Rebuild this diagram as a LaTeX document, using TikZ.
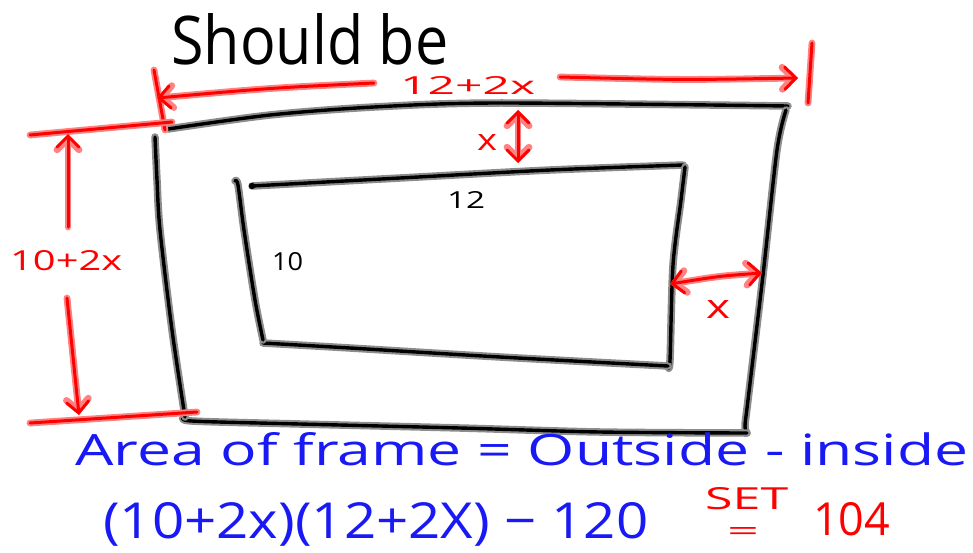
\documentclass[tikz,border=0pt]{standalone}
\usepackage{fontspec}
\usepackage{graphicx}
\setmainfont{Open Sans}
\usetikzlibrary{arrows.meta}
\definecolor{inkred}{RGB}{255,0,0}
\definecolor{inkblue}{RGB}{25,25,245}
\definecolor{halogray}{RGB}{140,140,140}
\definecolor{halored}{RGB}{255,130,130}
\tikzset{
  pen/.style={line width=3.4pt, black, line cap=round, line join=round,
    preaction={draw=halogray, line width=7.5pt, line cap=round, line join=round}},
  redpen/.style={line width=3pt, inkred, line cap=round, line join=round,
    preaction={draw=halored, line width=6.8pt, line cap=round, line join=round}},
  tip/.style={-{Straight Barb[length=11pt,width=22pt,line cap=round]}},
  tips/.style={{Straight Barb[length=11pt,width=22pt,line cap=round]}-{Straight Barb[length=11pt,width=22pt,line cap=round]}},
  lbl/.style={inner sep=0pt, anchor=base west},
}
\begin{document}
\begin{tikzpicture}[x=1pt,y=-1pt]
\useasboundingbox (0,0) rectangle (973,552);
% ---------- outer frame ----------
\draw[pen] plot[smooth,tension=0.5] coordinates {(168,129) (270,115) (374,107) (498,103) (788,106)};
\draw[pen] plot[smooth,tension=0.5] coordinates {(786,110) (777,150) (763,275) (748,400) (745,426) (747,433)};
\draw[pen] plot[smooth,tension=0.5] coordinates {(747,433) (600,432) (460,428) (300,424) (192,421) (185,417)};
\draw[pen] plot[smooth,tension=0.5] coordinates {(185,417) (172,330) (160,230) (157,180) (155,137)};
% ---------- inner frame ----------
\draw[pen] plot[smooth,tension=0.5] coordinates {(252,186) (400,178) (550,170) (683,165)};
\fill (252,186) circle (3.2pt);
\draw[pen] plot[smooth,tension=0.5] coordinates {(685,167) (681,200) (673,265) (670,360) (668,366)};
\draw[pen] plot[smooth,tension=0.5] coordinates {(668,366) (500,357) (350,348) (263,343)};
\draw[pen] plot[smooth,tension=0.5] coordinates {(263,340) (255,300) (244,230) (238,185) (235,181)};
% ---------- coordinates for red dimensions ----------
\coordinate (ltickA) at (154,70);
\coordinate (ltickB) at (165,130);
\coordinate (larrowS) at (374,83);
\coordinate (larrowE) at (157,98);
\coordinate (rarrowS) at (560,77);
\coordinate (rarrowE) at (798,78);
\coordinate (rtickA) at (812,43);
\coordinate (rtickB) at (808,103);
\coordinate (xtopA) at (518,110);
\coordinate (xtopB) at (518,163);
\coordinate (hlineA) at (30,135);
\coordinate (hlineB) at (172,122);
\coordinate (vupS) at (68,227);
\coordinate (vupE) at (68,134);
\coordinate (vdnS) at (67,298);
\coordinate (vdnE) at (79,415);
\coordinate (blineA) at (30,423);
\coordinate (blineB) at (197,412);
\coordinate (xrA) at (670,284);
\coordinate (xrB) at (762,273);
% ---------- red dimensions ----------
\draw[redpen] (ltickA) -- (ltickB);
\draw[redpen,tip] (larrowS) .. controls (270,88) .. (larrowE);
\draw[redpen,tip] (rarrowS) .. controls (680,80) .. (rarrowE);
\draw[redpen] (rtickA) -- (rtickB);
\draw[redpen,tips] (xtopA) -- (xtopB);
\draw[redpen] (hlineA) -- (hlineB);
\draw[redpen,tip] (vupS) -- (vupE);
\draw[redpen,tip] (vdnS) -- (vdnE);
\draw[redpen] (blineA) -- (blineB);
\draw[redpen,tips] (xrA) .. controls (720,276) .. (xrB);
% ---------- labels ----------
\node[lbl] (should) at (171,64) {\resizebox{277pt}{51pt}{Should be}};
\node[lbl,text=inkred] (topdim) at (400,94) {\resizebox{135pt}{18pt}{12+2x}};
\node[lbl,text=inkred] (xtop) at (477,150) {\resizebox{20pt}{16pt}{x}};
\node[lbl,text=inkred] (leftdim) at (10,270) {\resizebox{112pt}{20pt}{10+2x}};
\node[lbl,text=inkred] (xright) at (706,318) {\resizebox{24pt}{18pt}{x}};
\node[lbl] (twelve) at (447,208) {\resizebox{38pt}{17pt}{12}};
\node[lbl] (ten) at (272,270) {\resizebox{31pt}{18pt}{10}};
\node[lbl,text=inkblue] (line1) at (75,465) {\resizebox{893pt}{33pt}{Area of frame = Outside - inside}};
\node[lbl,text=inkblue] (line2) at (103,538) {\resizebox{545pt}{36pt}{(10+2x)(12+2X) − 120}};
\node[lbl,text=inkred] (set) at (705,509) {\resizebox{83pt}{22pt}{SET}};
\node[lbl,text=inkred] (seteq) at (727,540) {\resizebox{32pt}{13pt}{=}};
\node[lbl,text=inkred] (val) at (813,535) {\resizebox{77pt}{33pt}{104}};
\end{tikzpicture}
\end{document}
